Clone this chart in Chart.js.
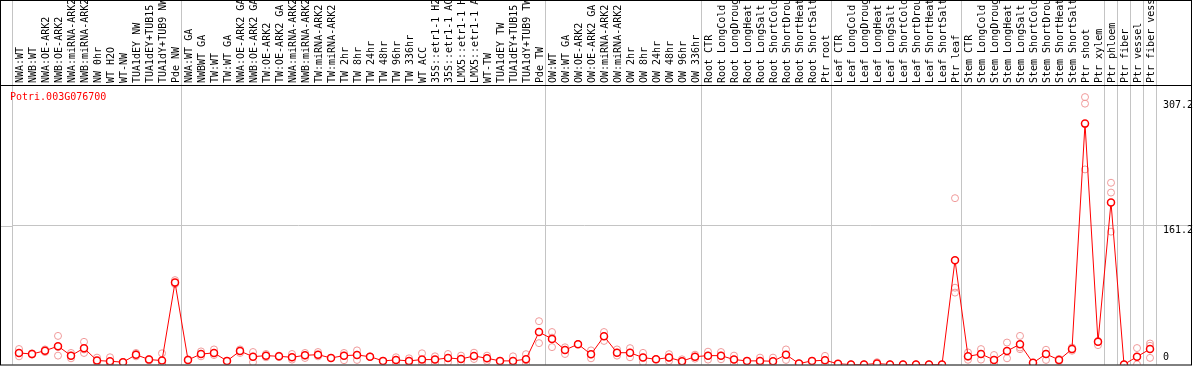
<!DOCTYPE html>
<html>
<head>
<meta charset="utf-8">
<title>Potri.003G076700</title>
<script src="https://cdn.jsdelivr.net/npm/chart.js@4.4.0/dist/chart.umd.min.js"></script>
<style>
html, body { margin: 0; padding: 0; background: #fff; }
canvas { display: block; }
</style>
</head>
<body>
<canvas id="lineChart" width="1194" height="370"></canvas>
<script>
"use strict";

const geneName = "Potri.003G076700";

const categories = [
	"NWA:WT", "NWB:WT", "NWA:OE-ARK2", "NWB:OE-ARK2", "NWA:miRNA-ARK2", "NWB:miRNA-ARK2",
	"NW 0hr", "WT H2O", "WT-NW", "TUA1dEY NW", "TUA1dEY+TUB15 NW", "TUA1dY+TUB9 NW", "Pde NW",
	"NWA:WT GA", "NWBWT GA", "TW:WT", "TW:WT GA", "NWA:OE-ARK2 GA", "NWB:OE-ARK2 GA",
	"TW:OE-ARK2", "TW:OE-ARK2 GA", "NWA:miRNA-ARK2", "NWB:miRNA-ARK2", "TW:miRNA-ARK2", "TW:miRNA-ARK2",
	"TW 2hr", "TW 8hr", "TW 24hr", "TW 48hr", "TW 96hr", "TW 336hr", "WT ACC",
	"35S::etr1-1 H2O", "35S::etr1-1 ACC", "LMX5::etr1-1 H2O", "LMX5::etr1-1 ACC",
	"WT-TW", "TUA1dEY TW", "TUA1dEY+TUB15 TW", "TUA1dY+TUB9 TW", "Pde TW",
	"OW:WT", "OW:WT GA", "OW:OE-ARK2", "OW:OE-ARK2 GA", "OW:miRNA-ARK2", "OW:miRNA-ARK2",
	"OW 2hr", "OW 8hr", "OW 24hr", "OW 48hr", "OW 96hr", "OW 336hr",
	"Root CTR", "Root LongCold", "Root LongDrought", "Root LongHeat", "Root LongSalt",
	"Root ShortCold", "Root ShortDrought", "Root ShortHeat", "Root ShortSalt", "Ptr root",
	"Leaf CTR", "Leaf LongCold", "Leaf LongDrought", "Leaf LongHeat", "Leaf LongSalt",
	"Leaf ShortCold", "Leaf ShortDrought", "Leaf ShortHeat", "Leaf ShortSalt", "Ptr leaf",
	"Stem CTR", "Stem LongCold", "Stem LongDrought", "Stem LongHeat", "Stem LongSalt",
	"Stem ShortCold", "Stem ShortDrought", "Stem ShortHeat", "Stem ShortSalt",
	"Ptr shoot", "Ptr xylem", "Ptr phloem", "Ptr fiber", "Ptr vessel", "Ptr fiber vessel",
];

// mean expression per sample
const meanValues = [
	13.4, 12.2, 16, 21.3, 10.3, 19, 4.6, 3.8, 2.7, 11.4, 5.7, 4.6, 95.3,
	5.3, 12.2, 13.4, 4.2, 15.6, 9.1, 10.3, 9.5, 8.4, 10.7, 11.4, 7.6, 10.3, 11, 9.1,
	4.2, 5.3, 4.2, 5.7, 5.7, 7.6, 6.4, 9.9, 7.2, 4.2, 4.2, 6.1, 37.7,
	29.7, 16.8, 23.6, 11.8, 32.8, 13.7, 13.7, 8, 6.1, 8, 3.8, 9.1,
	10.3, 10.3, 5.7, 4.2, 4.2, 3.8, 11.4, 1.1, 4.2, 4.9,
	0.8, 0, 0, 1.1, 0, 0, 0, 0, 0, 121.2,
	9.5, 12.2, 5.3, 15.6, 23.6, 1.9, 12.2, 5.3, 17.9,
	279.8, 26.3, 188.3, 0, 9.1, 17.9,
];

// replicates
const rep1 = [
	18, 13, 17.5, 33.2, 13.4, 26.3, 8, 8.4, 3, 13.4, 6.4, 13, 98,
	6, 15.2, 17.5, 4.2, 17.5, 14.5, 12.2, 10.3, 12.2, 13.4, 14.5, 7.6, 13.4, 16.4, 9.1,
	4.2, 8.4, 7.2, 13, 9.5, 12.2, 10.3, 13.7, 10.3, 4.2, 9.5, 12, 50.3,
	37.7, 20, 23.6, 16.4, 37.7, 17.5, 19, 13.5, 6.1, 12, 6, 11.4,
	14.9, 14.5, 10.3, 4.2, 8, 8, 17.5, 1.1, 4.2, 10,
	0.8, 0, 0, 2.7, 0, 0, 0, 0, 0, 193.2,
	14, 17.9, 11, 25.5, 33.2, 1.9, 17.1, 6.5, 19.8,
	310.6, 27.4, 211.1, 0, 19.1, 24.4,
];
const rep2 = [
	13.4, 12.2, 16, 20.4, 10.3, 17.5, 3, 2.7, 2.7, 12.2, 5.7, 0.5, 94.5,
	5, 12.2, 13.4, 4.2, 16, 9.1, 10.3, 9.5, 8.4, 10.3, 11.4, 7.6, 10.3, 11, 9.1,
	4.2, 5.3, 4.2, 3, 5.7, 7.6, 6.4, 9.9, 7.2, 4.2, 4.2, 5, 37.7,
	31.2, 16.8, 23.6, 11.8, 32.8, 13.7, 13.7, 8, 6.1, 8, 3.8, 9.1,
	10.3, 10.3, 5.7, 4.2, 4.2, 3.8, 11.4, 1.1, 4.2, 4.9,
	0.8, 0, 0, 0.6, 0, 0, 0, 0, 0, 89.2,
	9, 12.2, 5.3, 15.6, 19.8, 1.9, 12.2, 5.3, 17.9,
	303, 26.3, 199.7, 0, 9.1, 21.7,
];
const rep3 = [
	9.5, 11.4, 14.5, 10.3, 7.2, 13.4, 2.8, 0.7, 2.4, 9.5, 4.6, 0.3, 93.4,
	5, 9.5, 11, 4.2, 13.4, 2.7, 8.4, 8.7, 5.7, 7.6, 9.5, 7.6, 5, 5.3, 9.1,
	4.2, 1.9, 2.7, 1.1, 1.9, 2.7, 2.5, 6.4, 4.2, 4.2, 0, 1.3, 24.8,
	20.2, 12.2, 23.6, 7.2, 27.4, 10.3, 8.4, 2.5, 6.1, 4, 1.6, 6.8,
	5.7, 6.1, 1.1, 4.2, 0.4, 0, 5.3, 1.1, 4.2, 0,
	0.8, 0, 0, 0, 0, 0, 0, 0, 0, 83.5,
	5.5, 5.7, 0.8, 7.2, 17.8, 1.9, 5.3, 3.9, 16,
	226.6, 22.5, 154.3, 0, 0, 7.7,
];

const yTicks = [0, 161.2, 307.2];
const yMax = 323.5;
// first sample index of each group (separator lines)
const groupStarts = [0, 13, 41, 53, 63, 73, 84, 85, 86, 87];

const monoFont = { family: "'DejaVu Sans Mono', monospace", size: 10 };
const gridGray = "#c4c4c4";
const clear = "rgba(0,0,0,0)";

const framePlugin = {
	id: "frame",
	afterDraw(chart) {
		const c = chart.ctx;
		const area = chart.chartArea;
		c.save();
		// mid gridline reaches the left edge too
		const gy = Math.round(chart.scales.y.getPixelForValue(yTicks[1])) + 0.5;
		c.strokeStyle = gridGray;
		c.lineWidth = 1;
		c.beginPath();
		c.moveTo(0, gy);
		c.lineTo(area.left, gy);
		c.stroke();
		c.strokeStyle = "#000";
		c.strokeRect(0.5, 0.5, chart.width - 3, area.bottom);
		c.beginPath();
		c.moveTo(0, area.top - 0.5);
		c.lineTo(chart.width - 2, area.top - 0.5);
		c.stroke();
		c.fillStyle = "#ff0000";
		c.font = "10px 'DejaVu Sans Mono'";
		c.textBaseline = "middle";
		c.fillText(geneName, 10, area.top + 11);
		c.restore();
	},
};

const repStyle = {
	showLine: false,
	pointRadius: 3.5,
	pointBorderWidth: 1,
	pointBorderColor: "#f09a9a",
	pointBackgroundColor: clear,
	borderColor: "#f09a9a",
};

new Chart(document.getElementById("lineChart"), {
	type: "line",
	data: {
		labels: categories,
		datasets: [
			{
				label: geneName,
				data: meanValues,
				borderColor: "#ff0000",
				borderWidth: 1,
				pointRadius: 3.5,
				pointBorderWidth: 1.5,
				pointBorderColor: "#ff0000",
				pointBackgroundColor: "#ffffff",
				tension: 0,
			},
			{ label: "rep1", data: rep1, ...repStyle },
			{ label: "rep2", data: rep2, ...repStyle },
			{ label: "rep3", data: rep3, ...repStyle },
		],
	},
	options: {
		responsive: false,
		animation: false,
		devicePixelRatio: 1,
		layout: { padding: { left: 12.5, right: 1.5, top: 0, bottom: 1 } },
		plugins: {
			legend: { display: false },
			tooltip: { enabled: false },
		},
		scales: {
			x: {
				type: "category",
				position: "top",
				offset: true,
				border: { display: false },
				grid: {
					offset: true,
					tickLength: 86,
					color: (c) => (c.index === undefined || groupStarts.includes(c.index) ? gridGray : clear),
				},
				ticks: {
					autoSkip: false,
					minRotation: 90,
					maxRotation: 90,
					padding: -83,
					labelOffset: 13,
					color: "#000",
					font: monoFont,
				},
				afterFit: (s) => {
					s.height = 86;
					s.paddingLeft = 0;
					s.paddingRight = 0;
				},
			},
			y: {
				position: "right",
				min: 0,
				max: yMax,
				border: { display: false },
				afterBuildTicks: (s) => {
					s.ticks = yTicks.map((v) => ({ value: v }));
				},
				afterFit: (s) => {
					s.width = 36;
					s.paddingTop = 0;
					s.paddingBottom = 0;
				},
				grid: {
					tickLength: 36,
					color: (c) => (c.tick && c.tick.value === yTicks[1] ? gridGray : clear),
				},
				ticks: {
					padding: -29.5,
					labelOffset: 5,
					color: "#000",
					font: monoFont,
					// bottom label is lifted inside the frame, as in the original
					callback: (value) => (value === 0 ? ["0", "", ""] : String(value)),
				},
			},
		},
	},
	plugins: [framePlugin],
});
</script>
</body>
</html>
